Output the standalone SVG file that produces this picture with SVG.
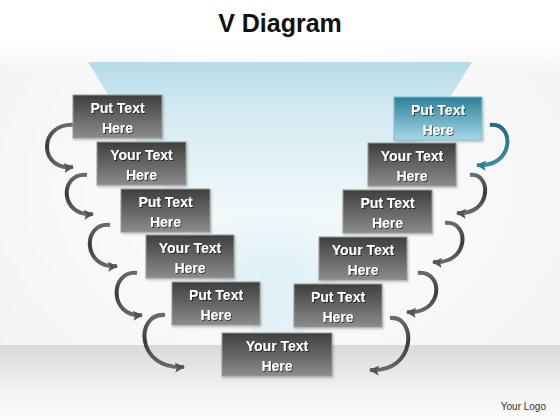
<svg xmlns="http://www.w3.org/2000/svg" width="560" height="420" viewBox="0 0 560 420">
<defs>
<radialGradient id="bg" cx="0.5" cy="0.45" r="0.75">
<stop offset="0" stop-color="#ffffff"/>
<stop offset="1" stop-color="#f1f1f1"/>
</radialGradient>
<linearGradient id="floor" x1="0" y1="0" x2="0" y2="1">
<stop offset="0" stop-color="#d9d9d9"/>
<stop offset="0.6" stop-color="#f2f2f2"/>
<stop offset="1" stop-color="#fbfbfb"/>
</linearGradient>
<linearGradient id="topfade" x1="0" y1="0" x2="0" y2="1">
<stop offset="0" stop-color="#ffffff"/>
<stop offset="0.6" stop-color="#ffffff"/>
<stop offset="1" stop-color="#ffffff" stop-opacity="0"/>
</linearGradient>
<linearGradient id="funnel" x1="0" y1="0" x2="0" y2="1">
<stop offset="0" stop-color="#b6dce9"/>
<stop offset="0.2" stop-color="#d6ebf2"/>
<stop offset="0.55" stop-color="#f1f8fa"/>
<stop offset="1" stop-color="#e6f3f8"/>
</linearGradient>
<radialGradient id="glow" cx="0.5" cy="0.5" r="0.5">
<stop offset="0" stop-color="#dff0f6"/>
<stop offset="1" stop-color="#dff0f6" stop-opacity="0"/>
</radialGradient>
<linearGradient id="gray" x1="0" y1="0" x2="0" y2="1">
<stop offset="0" stop-color="#3e3e3e"/>
<stop offset="1" stop-color="#8c8c8c"/>
</linearGradient>
<linearGradient id="teal" x1="0" y1="0" x2="0" y2="1">
<stop offset="0" stop-color="#2c7f98"/>
<stop offset="1" stop-color="#a6d8e7"/>
</linearGradient>
<linearGradient id="arrowg" x1="0" y1="0" x2="0" y2="1">
<stop offset="0" stop-color="#6a6a6a"/>
<stop offset="0.5" stop-color="#3a3a3a"/>
<stop offset="1" stop-color="#6a6a6a"/>
</linearGradient>
<linearGradient id="arrowt" x1="0" y1="0" x2="0" y2="1">
<stop offset="0" stop-color="#1e6a80"/>
<stop offset="1" stop-color="#3d8fa6"/>
</linearGradient>
<marker id="ah" markerUnits="userSpaceOnUse" markerWidth="10" markerHeight="10" refX="9" refY="5" orient="auto">
<path d="M0,0 L10,5 L0,10 L2,5 z" fill="#555"/>
</marker>
<marker id="aht" markerUnits="userSpaceOnUse" markerWidth="10" markerHeight="10" refX="9" refY="5" orient="auto">
<path d="M0,0 L10,5 L0,10 L2,5 z" fill="#2d7f96"/>
</marker>
<filter id="ts" x="-10%" y="-20%" width="130%" height="150%">
<feDropShadow dx="1" dy="1" stdDeviation="0.6" flood-color="#000" flood-opacity="0.6"/>
</filter>
<filter id="bs" x="-10%" y="-10%" width="130%" height="140%">
<feDropShadow dx="1" dy="1.5" stdDeviation="1" flood-color="#000" flood-opacity="0.25"/>
</filter>
</defs>
<style>
.box{fill:url(#gray);stroke:#9a9a9a;stroke-width:1;filter:url(#bs)}
.tbox{fill:url(#teal);stroke:#7fc0d4;stroke-width:1;filter:url(#bs)}
.lbl{font-family:"Liberation Sans",Arial,sans-serif;font-weight:bold;font-size:14px;fill:#ffffff;text-anchor:middle;filter:url(#ts)}
.arr{fill:none;stroke:url(#arrowg);stroke-width:4;stroke-linecap:butt;marker-end:url(#ah)}
.arrt{fill:none;stroke:url(#arrowt);stroke-width:4;marker-end:url(#aht)}
</style>
<rect x="0" y="0" width="560" height="420" fill="url(#bg)"/>
<rect x="0" y="0" width="560" height="70" fill="url(#topfade)"/>
<rect x="0" y="345" width="560" height="75" fill="url(#floor)"/>
<polygon points="88,62 472,62 302,335 256,335" fill="url(#funnel)"/>
<ellipse cx="270" cy="280" rx="90" ry="70" fill="url(#glow)"/>
<text x="280" y="32" font-family="Liberation Sans, Arial, sans-serif" font-weight="bold" font-size="25" fill="#111" text-anchor="middle">V Diagram</text>
<g id="connectors">
<path class="arr" d="M75,125 C38,122 38,171 73,167"/>
<path class="arr" d="M87,175 C59,172 59,217 93,214"/>
<path class="arr" d="M110,225 C82,222 82,269 117,266"/>
<path class="arr" d="M137,273 C109,270 109,318 142,315"/>
<path class="arr" d="M165,315 C135,312 135,370 184,367"/>
<path class="arrt" d="M490,125 C515,122 515,168 477,165"/>
<path class="arr" d="M470,175 C492,172 492,216 457,213"/>
<path class="arr" d="M445,223 C470,220 470,265 433,262"/>
<path class="arr" d="M418,273 C444,270 444,315 407,312"/>
<path class="arr" d="M390,318 C417,315 417,373 370,370"/>
</g>
<g id="L1"><rect class="box" x="73" y="95" width="89" height="43"/><text class="lbl" x="117.5" y="112.5">Put Text</text><text class="lbl" x="117.5" y="132.5">Here</text></g>
<g id="L2"><rect class="box" x="97" y="142" width="89" height="43"/><text class="lbl" x="141.5" y="159.5">Your Text</text><text class="lbl" x="141.5" y="179.5">Here</text></g>
<g id="L3"><rect class="box" x="121" y="189" width="89" height="43"/><text class="lbl" x="165.5" y="206.5">Put Text</text><text class="lbl" x="165.5" y="226.5">Here</text></g>
<g id="L4"><rect class="box" x="146" y="235" width="88" height="43"/><text class="lbl" x="190" y="252.5">Your Text</text><text class="lbl" x="190" y="272.5">Here</text></g>
<g id="L5"><rect class="box" x="172" y="282" width="88" height="43"/><text class="lbl" x="216" y="299.5">Put Text</text><text class="lbl" x="216" y="319.5">Here</text></g>
<g id="B"><rect class="box" x="222" y="333" width="110" height="43"/><text class="lbl" x="277" y="350.5">Your Text</text><text class="lbl" x="277" y="370.5">Here</text></g>
<g id="R1"><rect class="tbox" x="394" y="97" width="88" height="43"/><text class="lbl" x="438" y="114.5">Put Text</text><text class="lbl" x="438" y="134.5">Here</text></g>
<g id="R2"><rect class="box" x="368" y="143" width="88" height="43"/><text class="lbl" x="412" y="160.5">Your Text</text><text class="lbl" x="412" y="180.5">Here</text></g>
<g id="R3"><rect class="box" x="343" y="190" width="89" height="43"/><text class="lbl" x="387.5" y="207.5">Put Text</text><text class="lbl" x="387.5" y="227.5">Here</text></g>
<g id="R4"><rect class="box" x="319" y="237" width="88" height="43"/><text class="lbl" x="363" y="254.5">Your Text</text><text class="lbl" x="363" y="274.5">Here</text></g>
<g id="R5"><rect class="box" x="294" y="284" width="88" height="43"/><text class="lbl" x="338" y="301.5">Put Text</text><text class="lbl" x="338" y="321.5">Here</text></g>
<text x="546" y="410" font-family="Liberation Sans, Arial, sans-serif" font-size="10" fill="#333" text-anchor="end">Your Logo</text>
</svg>
